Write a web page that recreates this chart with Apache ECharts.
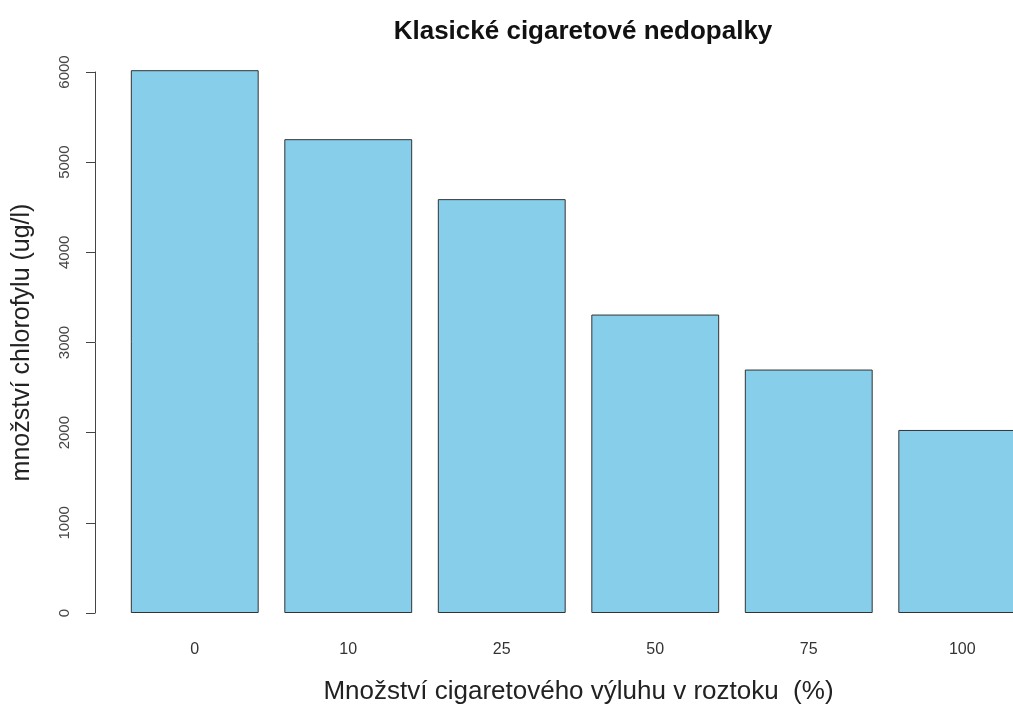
<!DOCTYPE html>
<html>
<head>
<meta charset="utf-8">
<script src="https://cdn.jsdelivr.net/npm/echarts@6/dist/echarts.min.js"></script>
<style>
  html, body { margin: 0; padding: 0; background: #fff; }
  #chart { width: 1013px; height: 704px; }
</style>
</head>
<body>
<div id="chart"></div>
<script>
// podíl výluhu v roztoku (%)
const categories = ['0', '10', '25', '50', '75', '100'];
// množství chlorofylu (ug/l)
const chlorophyll = [6020, 5255, 4590, 3310, 2700, 2030];
const yTicks = [0, 1000, 2000, 3000, 4000, 5000, 6000];

const font = '"Liberation Sans", Arial, sans-serif';

const chart = echarts.init(document.getElementById('chart'));

chart.setOption({
  backgroundColor: '#ffffff',
  animation: false,
  title: {
    text: 'Klasické cigaretové nedopalky',
    left: 578,
    top: 14,
    textAlign: 'center',
    textStyle: { fontFamily: font, fontSize: 26, fontWeight: 'bold', color: '#111' }
  },
  grid: { left: 118, right: -26, top: 72, bottom: 91, outerBoundsMode: 'none', containLabel: false },
  xAxis: {
    type: 'category',
    data: categories,
    axisLine: { show: false },
    axisTick: { show: false },
    axisLabel: { margin: 29, fontFamily: font, fontSize: 16, color: '#333' },
    name: 'Množství cigaretového výluhu v roztoku  (%)',
    nameLocation: 'middle',
    nameGap: 66,
    nameTextStyle: { fontFamily: font, fontSize: 26, color: '#222' }
  },
  yAxis: {
    type: 'value',
    min: yTicks[0],
    max: yTicks[yTicks.length - 1],
    interval: 1000,
    offset: 23,
    splitLine: { show: false },
    axisLine: { show: true, lineStyle: { color: '#444', width: 1 } },
    axisTick: { show: true, length: 9, lineStyle: { color: '#444' } },
    axisLabel: {
      rotate: 90, margin: 23, fontFamily: font, fontSize: 15, color: '#444',
      formatter: v => String(v)
    },
    name: 'množství chlorofylu (ug/l)',
    nameLocation: 'middle',
    nameGap: 60,
    nameTextStyle: { fontFamily: font, fontSize: 25, color: '#222' }
  },
  series: [{
    type: 'bar',
    data: chlorophyll,
    clip: false,
    barCategoryGap: '16.7%',
    itemStyle: { color: '#87CEEB', borderColor: '#333', borderWidth: 1 }
  }]
});
</script>
</body>
</html>
